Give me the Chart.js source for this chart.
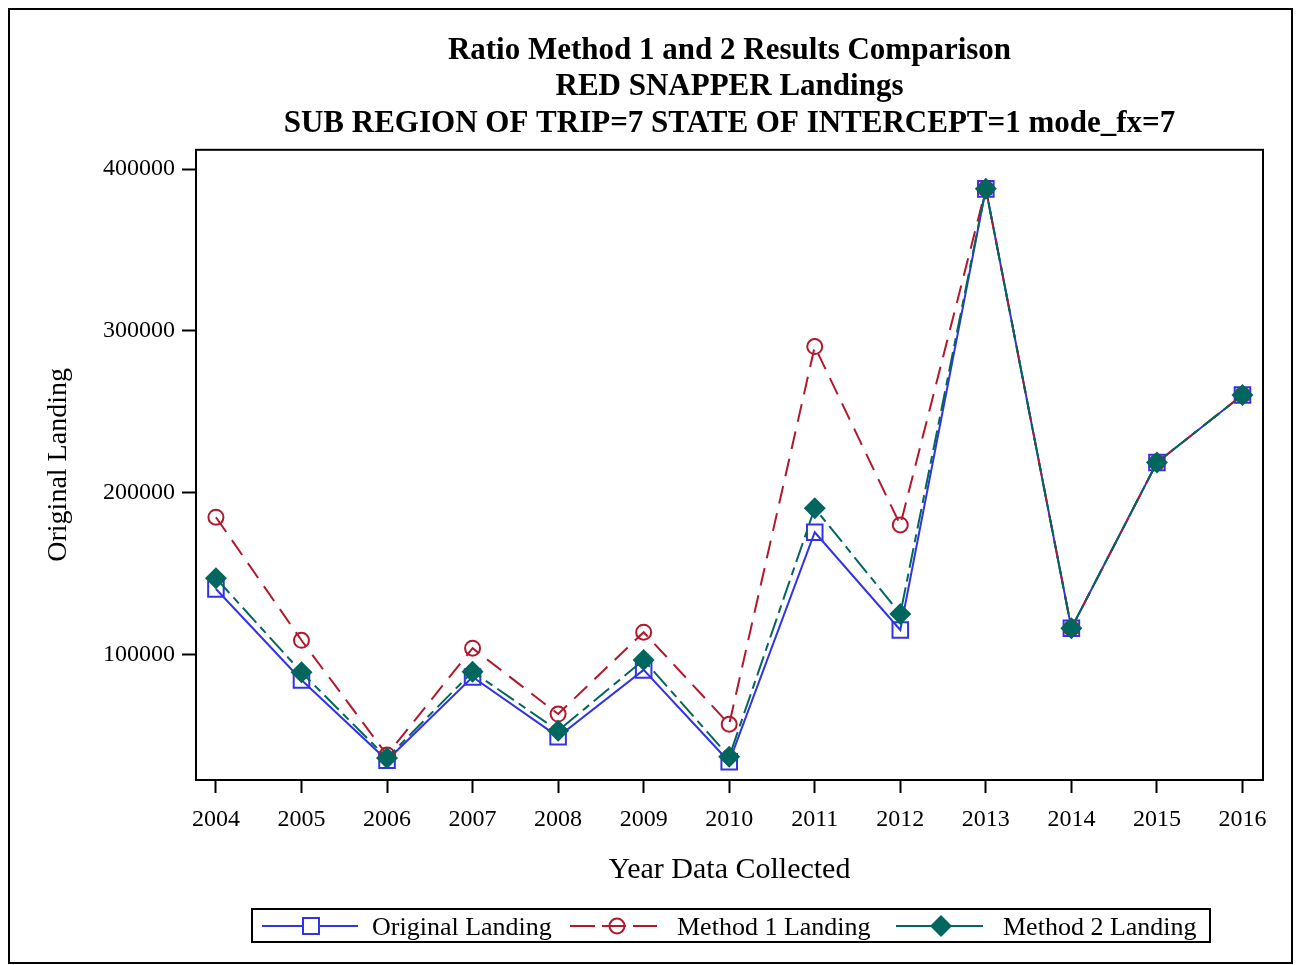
<!DOCTYPE html>
<html>
<head>
<meta charset="utf-8">
<script src="https://cdn.jsdelivr.net/npm/chart.js@4/dist/chart.umd.min.js"></script>
<style>
  html, body { margin: 0; padding: 0; background: #fff; }
  canvas { display: block; }
</style>
</head>
<body>
<canvas id="chart" width="1297" height="965"></canvas>
<script>
// values
const years = [2004, 2005, 2006, 2007, 2008, 2009, 2010, 2011, 2012, 2013, 2014, 2015, 2016];
const originalLanding = [140400, 84200, 34500, 86000, 49100, 90400, 33600, 175500, 115100, 387800, 116100, 218600, 260400];
const method1Landing = [184800, 108700, 37800, 103800, 63100, 113700, 56800, 290300, 180000, 387800, 116100, 218600, 260400];
const method2Landing = [147100, 88900, 35900, 89300, 52800, 96500, 36700, 190400, 125000, 387800, 116100, 218600, 260400];
const yTicks = [100000, 200000, 300000, 400000];
const titleLines = [
    "Ratio Method 1 and 2 Results Comparison",
    "RED SNAPPER Landings",
    "SUB REGION OF TRIP=7 STATE OF INTERCEPT=1 mode_fx=7"
];
const seriesNames = ["Original Landing", "Method 1 Landing", "Method 2 Landing"];

const BLUE = '#3333E6';
const RED = '#B2182B';
const GREEN = '#01665E';
const FONT = "'Liberation Serif', 'Times New Roman', serif";

function toPoints(values) {
    return years.map((yr, i) => ({ x: yr, y: values[i] }));
}

// frame around plot, outer page border and the SAS style legend
const framePlugin = {
    id: 'frame',
    afterDraw(c) {
        const ctx = c.ctx;
        const a = c.chartArea;
        ctx.save();
        ctx.strokeStyle = '#000';
        ctx.lineWidth = 2;
        ctx.strokeRect(a.left, a.top, a.right - a.left, a.bottom - a.top);
        ctx.strokeRect(9, 9, 1283, 954);

        // legend
        ctx.strokeRect(252, 909, 958, 33);
        const ly = 926;
        ctx.font = "26px " + FONT;
        ctx.textBaseline = 'middle';
        ctx.textAlign = 'left';

        // original
        ctx.strokeStyle = BLUE;
        ctx.beginPath(); ctx.moveTo(262, ly); ctx.lineTo(358, ly); ctx.stroke();
        ctx.fillStyle = '#fff';
        ctx.fillRect(303, ly - 8, 16, 16);
        ctx.strokeRect(303, ly - 8, 16, 16);
        ctx.fillStyle = '#000';
        ctx.fillText(seriesNames[0], 372, ly + 2);

        // method 1
        ctx.strokeStyle = RED;
        ctx.beginPath(); ctx.moveTo(570, ly); ctx.lineTo(595, ly); ctx.moveTo(633, ly); ctx.lineTo(657, ly); ctx.stroke();
        ctx.beginPath(); ctx.moveTo(602, ly); ctx.lineTo(626, ly); ctx.stroke();
        ctx.beginPath(); ctx.arc(617, ly, 7.5, 0, Math.PI * 2); ctx.stroke();
        ctx.fillStyle = '#000';
        ctx.fillText(seriesNames[1], 677, ly + 2);

        // method 2
        ctx.strokeStyle = GREEN;
        ctx.beginPath(); ctx.moveTo(896, ly); ctx.lineTo(983, ly); ctx.stroke();
        ctx.fillStyle = GREEN;
        ctx.beginPath();
        ctx.moveTo(941, ly - 11); ctx.lineTo(952, ly); ctx.lineTo(941, ly + 11); ctx.lineTo(930, ly);
        ctx.closePath(); ctx.fill();
        ctx.fillStyle = '#000';
        ctx.fillText(seriesNames[2], 1003, ly + 2);
        ctx.restore();
    }
};

const chart = new Chart(document.getElementById('chart'), {
    type: 'line',
    data: {
        datasets: [
            {
                label: seriesNames[0],
                data: toPoints(originalLanding),
                borderColor: BLUE,
                borderWidth: 2,
                pointStyle: 'rect',
                pointRadius: 11,
                pointBorderWidth: 2,
                pointBorderColor: BLUE,
                pointBackgroundColor: 'rgba(255,255,255,0)',
                tension: 0,
                order: 3
            },
            {
                label: seriesNames[1],
                data: toPoints(method1Landing),
                borderColor: RED,
                borderWidth: 2,
                borderDash: [18, 10],
                pointStyle: 'circle',
                pointRadius: 7.5,
                pointBorderWidth: 2,
                pointBorderColor: RED,
                pointBackgroundColor: 'rgba(255,255,255,0)',
                tension: 0,
                order: 2
            },
            {
                label: seriesNames[2],
                data: toPoints(method2Landing),
                borderColor: GREEN,
                borderWidth: 2,
                borderDash: [20, 6, 8, 6],
                pointStyle: 'rectRot',
                pointRadius: 11,
                pointBorderWidth: 0,
                pointBackgroundColor: GREEN,
                tension: 0,
                order: 1
            }
        ]
    },
    options: {
        responsive: false,
        animation: false,
        layout: {
            padding: { left: 30, right: 34, top: 0, bottom: 77 }
        },
        plugins: {
            legend: { display: false },
            tooltip: { enabled: false },
            title: {
                display: true,
                fullSize: false,
                text: titleLines,
                color: '#000',
                font: { family: FONT, size: 31, weight: 'bold', lineHeight: 1.17 },
                padding: { top: 33, bottom: 8 }
            }
        },
        scales: {
            x: {
                type: 'linear',
                min: 2003.767,
                max: 2016.24,
                afterFit(scale) { scale.height = 108; },
                afterBuildTicks(scale) {
                    scale.ticks = years.map(v => ({ value: v }));
                },
                ticks: {
                    color: '#000',
                    font: { family: FONT, size: 24 },
                    padding: 12,
                    maxRotation: 0,
                    callback: v => String(v)
                },
                grid: {
                    drawOnChartArea: false,
                    drawTicks: true,
                    tickLength: 13,
                    tickColor: '#000',
                    tickWidth: 2
                },
                border: { display: true, color: '#000', width: 2 },
                title: {
                    display: true,
                    text: 'Year Data Collected',
                    color: '#000',
                    font: { family: FONT, size: 30 },
                    padding: { top: 0, bottom: 0 }
                }
            },
            y: {
                min: 22325,
                max: 411936,
                afterFit(scale) { scale.width = 166; },
                afterBuildTicks(scale) {
                    scale.ticks = yTicks.map(v => ({ value: v }));
                },
                ticks: {
                    color: '#000',
                    font: { family: FONT, size: 24 },
                    padding: 7,
                    callback: v => String(v)
                },
                grid: {
                    drawOnChartArea: false,
                    drawTicks: true,
                    tickLength: 14,
                    tickColor: '#000',
                    tickWidth: 2
                },
                border: { display: true, color: '#000', width: 2 },
                title: {
                    display: true,
                    text: 'Original Landing',
                    color: '#000',
                    font: { family: FONT, size: 28 },
                    padding: { top: 12, bottom: 0 }
                }
            }
        }
    },
    plugins: [framePlugin]
});
</script>
</body>
</html>
